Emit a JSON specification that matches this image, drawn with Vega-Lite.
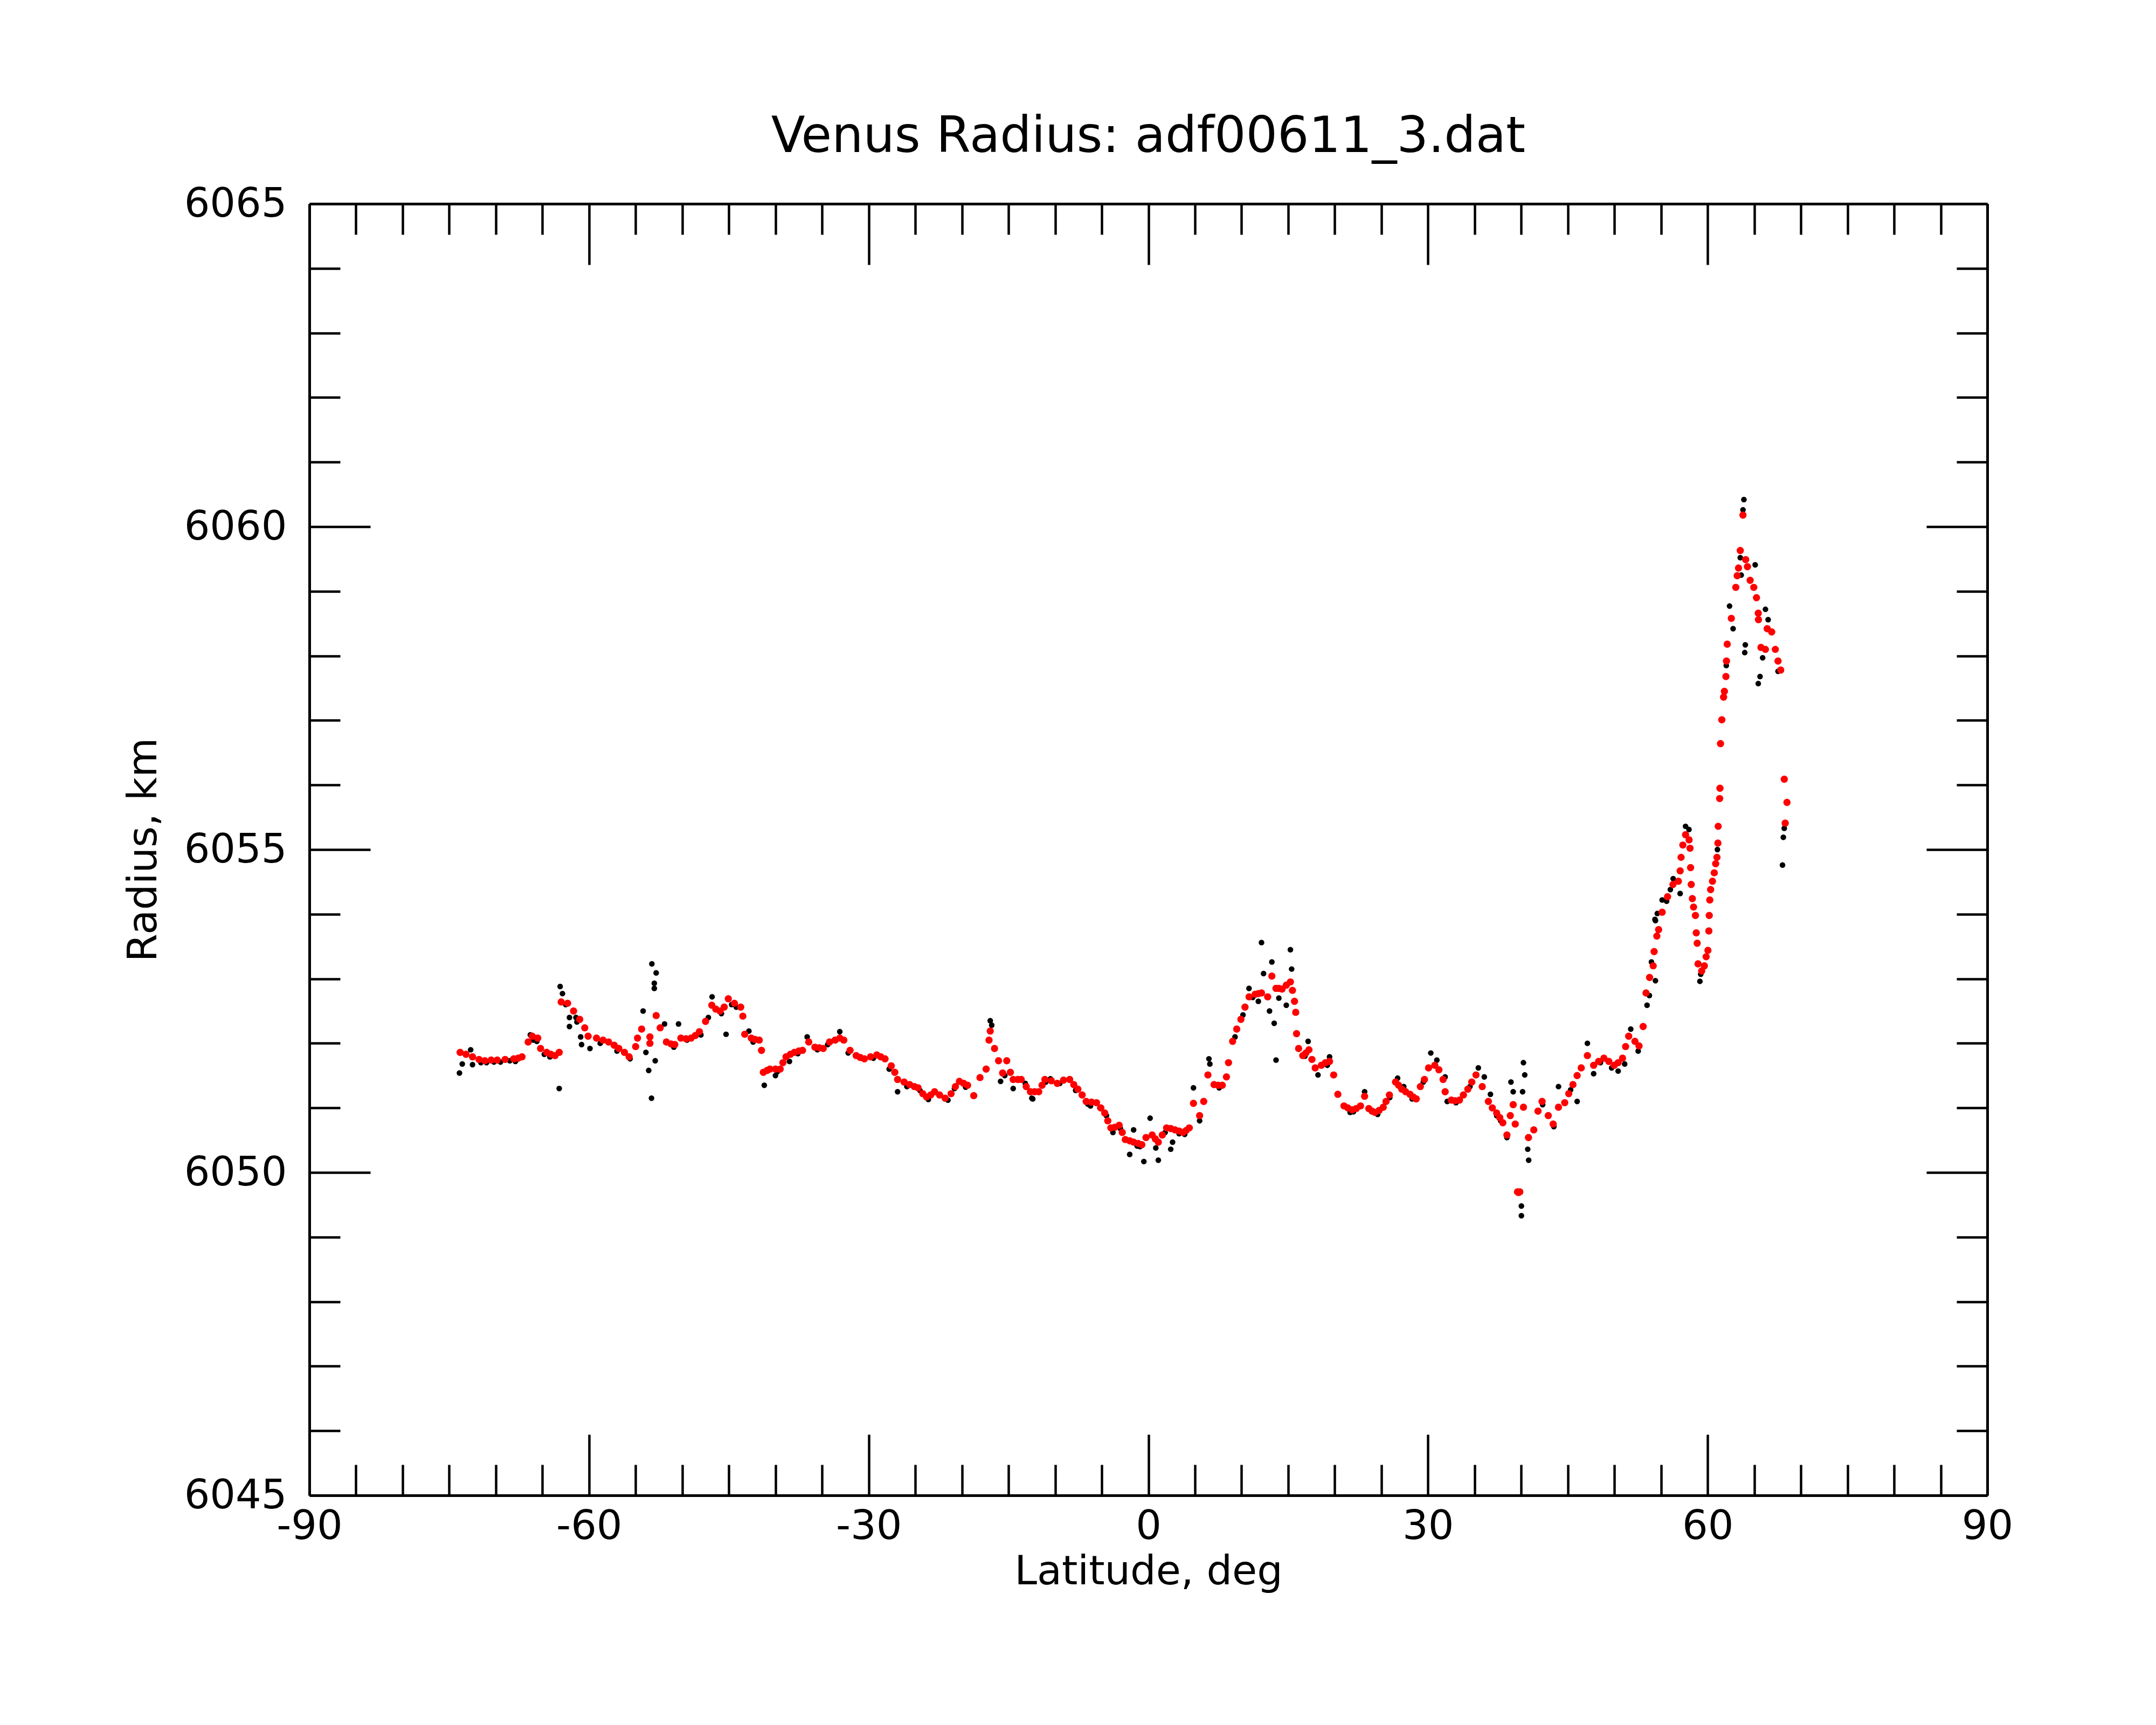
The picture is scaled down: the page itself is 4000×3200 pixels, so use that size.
{
  "$schema": "https://vega.github.io/schema/vega-lite/v6.json",
  "width": 3113,
  "height": 2396,
  "autosize": {"type": "none"},
  "padding": {"left": 574, "top": 378, "right": 313, "bottom": 426},
  "background": "white",
  "title": {"text": "Venus Radius: adf00611_3.dat", "fontSize": 92, "font": "DejaVu Sans", "fontWeight": "normal", "color": "black", "offset": 40, "anchor": "middle"},
  "config": {
    "view": {"stroke": null},
    "axis": {
      "domainColor": "black", "domainWidth": 5, "tickColor": "black", "tickWidth": 4.5,
      "labelFont": "DejaVu Sans", "labelFontSize": 75, "labelColor": "black", "labelLimit": 0,
      "titleFont": "DejaVu Sans", "titleFontSize": 75, "titleFontWeight": "normal", "titleColor": "black",
      "grid": false, "labelOverlap": false, "labelFlush": false, "labelBound": false
    }
  },
  "datasets": {
    "fit": [
      {"lat": -73.83, "r": 6051.86}, {"lat": -73.2, "r": 6051.83}, {"lat": -72.5, "r": 6051.79}, {"lat": -71.8, "r": 6051.75},
      {"lat": -71.18, "r": 6051.73}, {"lat": -70.5, "r": 6051.74}, {"lat": -69.85, "r": 6051.74}, {"lat": -69.0, "r": 6051.75},
      {"lat": -68.08, "r": 6051.76}, {"lat": -67.6, "r": 6051.77}, {"lat": -67.19, "r": 6051.79}, {"lat": -66.53, "r": 6052.02},
      {"lat": -66.09, "r": 6052.11}, {"lat": -65.5, "r": 6052.08}, {"lat": -65.2, "r": 6051.92}, {"lat": -64.54, "r": 6051.86},
      {"lat": -64.1, "r": 6051.83}, {"lat": -63.65, "r": 6051.81}, {"lat": -63.2, "r": 6051.86}, {"lat": -62.99, "r": 6052.64}, {"lat": -62.3, "r": 6052.62},
      {"lat": -61.66, "r": 6052.5}, {"lat": -61.0, "r": 6052.37}, {"lat": -60.46, "r": 6052.24}, {"lat": -60.1, "r": 6052.11},
      {"lat": -59.2, "r": 6052.08}, {"lat": -58.5, "r": 6052.05}, {"lat": -57.9, "r": 6052.02}, {"lat": -57.3, "r": 6051.97},
      {"lat": -56.8, "r": 6051.92}, {"lat": -56.2, "r": 6051.86}, {"lat": -55.7, "r": 6051.79}, {"lat": -55.0, "r": 6051.95},
      {"lat": -54.8, "r": 6052.08}, {"lat": -54.36, "r": 6052.22}, {"lat": -53.47, "r": 6052.1}, {"lat": -53.47, "r": 6052.0},
      {"lat": -52.8, "r": 6052.43}, {"lat": -52.37, "r": 6052.24}, {"lat": -51.7, "r": 6052.02}, {"lat": -51.2, "r": 6051.99}, {"lat": -50.8, "r": 6051.98},
      {"lat": -50.15, "r": 6052.08}, {"lat": -49.6, "r": 6052.07}, {"lat": -49.05, "r": 6052.08}, {"lat": -48.6, "r": 6052.12}, {"lat": -48.16, "r": 6052.18},
      {"lat": -47.5, "r": 6052.34}, {"lat": -46.83, "r": 6052.59}, {"lat": -46.4, "r": 6052.53}, {"lat": -45.95, "r": 6052.5}, {"lat": -45.5, "r": 6052.56},
      {"lat": -45.06, "r": 6052.69}, {"lat": -44.4, "r": 6052.62}, {"lat": -43.73, "r": 6052.56}, {"lat": -43.5, "r": 6052.42},
      {"lat": -43.3, "r": 6052.14}, {"lat": -42.6, "r": 6052.08}, {"lat": -42.2, "r": 6052.06}, {"lat": -41.74, "r": 6052.05}, {"lat": -41.5, "r": 6051.89},
      {"lat": -41.3, "r": 6051.55}, {"lat": -40.9, "r": 6051.58}, {"lat": -40.6, "r": 6051.6}, {"lat": -40.0, "r": 6051.6}, {"lat": -39.5, "r": 6051.6},
      {"lat": -39.2, "r": 6051.7}, {"lat": -38.87, "r": 6051.79}, {"lat": -38.4, "r": 6051.83}, {"lat": -37.98, "r": 6051.86}, {"lat": -37.5, "r": 6051.88}, {"lat": -37.1, "r": 6051.89}, {"lat": -36.43, "r": 6052.02},
      {"lat": -35.77, "r": 6051.94}, {"lat": -35.3, "r": 6051.93}, {"lat": -34.88, "r": 6051.92}, {"lat": -34.2, "r": 6052.02}, {"lat": -33.6, "r": 6052.05}, {"lat": -33.1, "r": 6052.08},
      {"lat": -32.67, "r": 6052.05}, {"lat": -32.0, "r": 6051.89}, {"lat": -31.34, "r": 6051.81}, {"lat": -30.9, "r": 6051.78}, {"lat": -30.46, "r": 6051.76},
      {"lat": -29.8, "r": 6051.79}, {"lat": -29.13, "r": 6051.82}, {"lat": -28.7, "r": 6051.79}, {"lat": -28.25, "r": 6051.76}, {"lat": -27.58, "r": 6051.65},
      {"lat": -27.2, "r": 6051.55}, {"lat": -26.9, "r": 6051.44}, {"lat": -26.2, "r": 6051.4}, {"lat": -25.6, "r": 6051.36}, {"lat": -25.1, "r": 6051.33},
      {"lat": -24.7, "r": 6051.31}, {"lat": -24.2, "r": 6051.22}, {"lat": -23.8, "r": 6051.17}, {"lat": -23.35, "r": 6051.2}, {"lat": -22.93, "r": 6051.25},
      {"lat": -22.4, "r": 6051.2}, {"lat": -21.8, "r": 6051.15}, {"lat": -21.16, "r": 6051.22}, {"lat": -20.7, "r": 6051.33}, {"lat": -20.27, "r": 6051.41},
      {"lat": -19.8, "r": 6051.38}, {"lat": -19.39, "r": 6051.35}, {"lat": -18.73, "r": 6051.19}, {"lat": -18.06, "r": 6051.47}, {"lat": -17.4, "r": 6051.6},
      {"lat": -17.09, "r": 6052.05}, {"lat": -16.96, "r": 6052.19}, {"lat": -16.5, "r": 6051.92}, {"lat": -16.07, "r": 6051.73},
      {"lat": -15.63, "r": 6051.54}, {"lat": -15.19, "r": 6051.73}, {"lat": -14.8, "r": 6051.55}, {"lat": -14.5, "r": 6051.44}, {"lat": -14.0, "r": 6051.44},
      {"lat": -13.64, "r": 6051.44}, {"lat": -13.1, "r": 6051.33}, {"lat": -12.65, "r": 6051.25}, {"lat": -12.2, "r": 6051.25},
      {"lat": -11.76, "r": 6051.25}, {"lat": -11.4, "r": 6051.35}, {"lat": -11.1, "r": 6051.44}, {"lat": -10.4, "r": 6051.42}, {"lat": -9.77, "r": 6051.38},
      {"lat": -9.1, "r": 6051.43}, {"lat": -8.44, "r": 6051.44}, {"lat": -8.0, "r": 6051.36}, {"lat": -7.56, "r": 6051.29}, {"lat": -7.1, "r": 6051.2}, {"lat": -6.67, "r": 6051.1},
      {"lat": -6.1, "r": 6051.09}, {"lat": -5.56, "r": 6051.08}, {"lat": -5.1, "r": 6051.0}, {"lat": -4.68, "r": 6050.92}, {"lat": -4.35, "r": 6050.8}, {"lat": -4.02, "r": 6050.69},
      {"lat": -3.6, "r": 6050.7}, {"lat": -3.13, "r": 6050.73}, {"lat": -2.8, "r": 6050.62}, {"lat": -2.47, "r": 6050.51}, {"lat": -2.0, "r": 6050.49}, {"lat": -1.58, "r": 6050.47},
      {"lat": -1.1, "r": 6050.45}, {"lat": -0.7, "r": 6050.43},
      {"lat": -0.25, "r": 6050.54}, {"lat": 0.41, "r": 6050.58}, {"lat": 0.75, "r": 6050.52}, {"lat": 1.07, "r": 6050.47}, {"lat": 1.5, "r": 6050.58}, {"lat": 1.96, "r": 6050.69},
      {"lat": 2.4, "r": 6050.68}, {"lat": 2.85, "r": 6050.66}, {"lat": 3.3, "r": 6050.64}, {"lat": 3.73, "r": 6050.62}, {"lat": 4.05, "r": 6050.65}, {"lat": 4.39, "r": 6050.69}, {"lat": 4.84, "r": 6051.07},
      {"lat": 5.5, "r": 6050.88}, {"lat": 5.94, "r": 6051.1}, {"lat": 6.39, "r": 6051.51}, {"lat": 7.05, "r": 6051.36},
      {"lat": 7.5, "r": 6051.35}, {"lat": 7.93, "r": 6051.35}, {"lat": 8.38, "r": 6051.48}, {"lat": 8.6, "r": 6051.7}, {"lat": 9.04, "r": 6052.03},
      {"lat": 9.48, "r": 6052.22}, {"lat": 9.93, "r": 6052.37}, {"lat": 10.37, "r": 6052.56}, {"lat": 10.81, "r": 6052.72},
      {"lat": 11.47, "r": 6052.76}, {"lat": 11.8, "r": 6052.77}, {"lat": 12.14, "r": 6052.78}, {"lat": 12.8, "r": 6052.72}, {"lat": 13.25, "r": 6053.04},
      {"lat": 13.69, "r": 6052.85}, {"lat": 14.0, "r": 6052.85}, {"lat": 14.35, "r": 6052.84}, {"lat": 14.8, "r": 6052.9}, {"lat": 15.24, "r": 6052.95}, {"lat": 15.46, "r": 6052.82},
      {"lat": 15.68, "r": 6052.65}, {"lat": 15.81, "r": 6052.48}, {"lat": 15.9, "r": 6052.15}, {"lat": 16.12, "r": 6051.92},
      {"lat": 16.57, "r": 6051.81}, {"lat": 16.9, "r": 6051.85}, {"lat": 17.23, "r": 6051.9}, {"lat": 17.55, "r": 6051.75}, {"lat": 17.9, "r": 6051.62}, {"lat": 18.56, "r": 6051.66},
      {"lat": 19.0, "r": 6051.7}, {"lat": 19.44, "r": 6051.72}, {"lat": 19.88, "r": 6051.51}, {"lat": 20.33, "r": 6051.21}, {"lat": 20.99, "r": 6051.03},
      {"lat": 21.4, "r": 6051.0}, {"lat": 21.88, "r": 6050.97}, {"lat": 22.3, "r": 6050.99}, {"lat": 22.76, "r": 6051.03}, {"lat": 23.2, "r": 6051.18}, {"lat": 23.65, "r": 6050.99},
      {"lat": 24.0, "r": 6050.95}, {"lat": 24.31, "r": 6050.93}, {"lat": 24.75, "r": 6050.96}, {"lat": 25.2, "r": 6051.01}, {"lat": 25.5, "r": 6051.1}, {"lat": 25.86, "r": 6051.2}, {"lat": 26.52, "r": 6051.4},
      {"lat": 26.85, "r": 6051.35}, {"lat": 27.19, "r": 6051.29}, {"lat": 27.6, "r": 6051.25}, {"lat": 28.07, "r": 6051.21}, {"lat": 28.4, "r": 6051.17}, {"lat": 28.74, "r": 6051.14}, {"lat": 29.18, "r": 6051.33},
      {"lat": 29.62, "r": 6051.44}, {"lat": 30.06, "r": 6051.62}, {"lat": 30.73, "r": 6051.66}, {"lat": 31.17, "r": 6051.59},
      {"lat": 31.62, "r": 6051.44}, {"lat": 31.84, "r": 6051.25}, {"lat": 32.5, "r": 6051.12}, {"lat": 32.9, "r": 6051.11}, {"lat": 33.38, "r": 6051.12},
      {"lat": 33.8, "r": 6051.2}, {"lat": 34.27, "r": 6051.29}, {"lat": 34.7, "r": 6051.4}, {"lat": 35.15, "r": 6051.51}, {"lat": 35.82, "r": 6051.33}, {"lat": 36.48, "r": 6051.1},
      {"lat": 36.9, "r": 6051.0}, {"lat": 37.37, "r": 6050.92}, {"lat": 37.7, "r": 6050.85}, {"lat": 38.03, "r": 6050.77}, {"lat": 38.47, "r": 6050.58}, {"lat": 38.83, "r": 6050.88},
      {"lat": 39.14, "r": 6051.05}, {"lat": 39.36, "r": 6050.75}, {"lat": 39.6, "r": 6049.7}, {"lat": 39.71, "r": 6049.69},
      {"lat": 39.85, "r": 6049.7}, {"lat": 40.24, "r": 6051.01}, {"lat": 40.78, "r": 6050.54}, {"lat": 41.35, "r": 6050.66},
      {"lat": 41.8, "r": 6050.95}, {"lat": 42.24, "r": 6051.1}, {"lat": 42.9, "r": 6050.88}, {"lat": 43.43, "r": 6050.75},
      {"lat": 44.0, "r": 6051.01}, {"lat": 44.67, "r": 6051.08}, {"lat": 45.1, "r": 6051.22}, {"lat": 45.55, "r": 6051.36}, {"lat": 46.0, "r": 6051.5}, {"lat": 46.44, "r": 6051.62},
      {"lat": 47.1, "r": 6051.81}, {"lat": 47.77, "r": 6051.66}, {"lat": 48.3, "r": 6051.72}, {"lat": 48.87, "r": 6051.77}, {"lat": 49.4, "r": 6051.72}, {"lat": 49.98, "r": 6051.66},
      {"lat": 50.4, "r": 6051.7}, {"lat": 50.87, "r": 6051.77}, {"lat": 51.2, "r": 6051.95}, {"lat": 51.53, "r": 6052.11}, {"lat": 52.2, "r": 6052.03}, {"lat": 52.64, "r": 6051.96},
      {"lat": 53.08, "r": 6052.26}, {"lat": 53.39, "r": 6052.78}, {"lat": 53.77, "r": 6053.02}, {"lat": 54.16, "r": 6053.2},
      {"lat": 54.26, "r": 6053.42}, {"lat": 54.55, "r": 6053.66}, {"lat": 54.74, "r": 6053.76}, {"lat": 55.12, "r": 6054.03},
      {"lat": 55.7, "r": 6054.27}, {"lat": 56.28, "r": 6054.46}, {"lat": 56.86, "r": 6054.51}, {"lat": 57.05, "r": 6054.67},
      {"lat": 57.15, "r": 6054.88}, {"lat": 57.34, "r": 6055.07}, {"lat": 57.63, "r": 6055.23}, {"lat": 58.01, "r": 6055.15},
      {"lat": 58.11, "r": 6055.02}, {"lat": 58.17, "r": 6054.72}, {"lat": 58.24, "r": 6054.46}, {"lat": 58.36, "r": 6054.24},
      {"lat": 58.49, "r": 6054.11}, {"lat": 58.69, "r": 6053.98}, {"lat": 58.78, "r": 6053.71}, {"lat": 58.88, "r": 6053.55},
      {"lat": 58.97, "r": 6053.23}, {"lat": 59.36, "r": 6053.12}, {"lat": 59.65, "r": 6053.2}, {"lat": 59.84, "r": 6053.34},
      {"lat": 60.03, "r": 6053.44}, {"lat": 60.13, "r": 6053.74}, {"lat": 60.17, "r": 6053.98}, {"lat": 60.23, "r": 6054.22},
      {"lat": 60.32, "r": 6054.38}, {"lat": 60.52, "r": 6054.51}, {"lat": 60.71, "r": 6054.64}, {"lat": 60.86, "r": 6054.78},
      {"lat": 61.0, "r": 6054.88}, {"lat": 61.1, "r": 6055.1}, {"lat": 61.13, "r": 6055.36}, {"lat": 61.29, "r": 6055.79},
      {"lat": 61.32, "r": 6055.95}, {"lat": 61.38, "r": 6056.64}, {"lat": 61.52, "r": 6057.01}, {"lat": 61.71, "r": 6057.36},
      {"lat": 61.8, "r": 6057.45}, {"lat": 61.96, "r": 6057.68}, {"lat": 62.02, "r": 6057.92}, {"lat": 62.1, "r": 6058.18},
      {"lat": 62.54, "r": 6058.58}, {"lat": 63.02, "r": 6059.06}, {"lat": 63.17, "r": 6059.24}, {"lat": 63.31, "r": 6059.36},
      {"lat": 63.5, "r": 6059.63}, {"lat": 63.79, "r": 6060.18}, {"lat": 64.08, "r": 6059.49}, {"lat": 64.27, "r": 6059.38},
      {"lat": 64.56, "r": 6059.17}, {"lat": 64.95, "r": 6059.06}, {"lat": 65.24, "r": 6058.9}, {"lat": 65.43, "r": 6058.66},
      {"lat": 65.45, "r": 6058.56}, {"lat": 65.72, "r": 6058.13}, {"lat": 66.2, "r": 6058.1}, {"lat": 66.39, "r": 6058.42},
      {"lat": 66.87, "r": 6058.37}, {"lat": 67.26, "r": 6058.1}, {"lat": 67.55, "r": 6057.92}, {"lat": 67.84, "r": 6057.78},
      {"lat": 68.22, "r": 6056.09}, {"lat": 68.51, "r": 6055.73}, {"lat": 68.32, "r": 6055.41}
    ],
    "raw": [
      {"lat": -73.9, "r": 6051.54}, {"lat": -73.6, "r": 6051.68}, {"lat": -72.7, "r": 6051.9}, {"lat": -72.5, "r": 6051.67},
      {"lat": -71.6, "r": 6051.7}, {"lat": -71.0, "r": 6051.7}, {"lat": -70.2, "r": 6051.71}, {"lat": -69.5, "r": 6051.71}, {"lat": -68.5, "r": 6051.73}, {"lat": -67.9, "r": 6051.72},
      {"lat": -66.3, "r": 6052.13}, {"lat": -66.0, "r": 6052.05}, {"lat": -65.6, "r": 6052.03}, {"lat": -64.8, "r": 6051.83}, {"lat": -64.2, "r": 6051.79},
      {"lat": -63.2, "r": 6051.3}, {"lat": -63.1, "r": 6052.88}, {"lat": -62.85, "r": 6052.77},
      {"lat": -62.5, "r": 6052.6}, {"lat": -62.1, "r": 6052.4}, {"lat": -62.1, "r": 6052.26}, {"lat": -61.4, "r": 6052.4}, {"lat": -61.3, "r": 6052.33},
      {"lat": -60.9, "r": 6052.1}, {"lat": -60.8, "r": 6051.98}, {"lat": -59.9, "r": 6051.92}, {"lat": -58.8, "r": 6052.0}, {"lat": -57.0, "r": 6051.88}, {"lat": -55.6, "r": 6051.76},
      {"lat": -54.2, "r": 6052.5},
      {"lat": -53.9, "r": 6051.86}, {"lat": -53.6, "r": 6051.58}, {"lat": -53.3, "r": 6051.15}, {"lat": -53.26, "r": 6053.23},
      {"lat": -52.8, "r": 6053.09}, {"lat": -53.0, "r": 6052.93}, {"lat": -53.0, "r": 6052.85}, {"lat": -52.9, "r": 6051.73},
      {"lat": -51.9, "r": 6052.3}, {"lat": -50.9, "r": 6051.94}, {"lat": -50.4, "r": 6052.3}, {"lat": -49.5, "r": 6052.05}, {"lat": -48.0, "r": 6052.13}, {"lat": -47.2, "r": 6052.4},
      {"lat": -46.8, "r": 6052.72}, {"lat": -45.8, "r": 6052.46},
      {"lat": -45.3, "r": 6052.14}, {"lat": -44.7, "r": 6052.6}, {"lat": -44.2, "r": 6052.56}, {"lat": -42.85, "r": 6052.19}, {"lat": -42.4, "r": 6052.02}, {"lat": -42.2, "r": 6052.05},
      {"lat": -41.2, "r": 6051.35}, {"lat": -40.0, "r": 6051.5}, {"lat": -39.8, "r": 6051.56}, {"lat": -38.5, "r": 6051.72}, {"lat": -37.6, "r": 6051.84}, {"lat": -36.6, "r": 6052.1},
      {"lat": -35.5, "r": 6051.9}, {"lat": -34.4, "r": 6051.98},
      {"lat": -33.1, "r": 6052.18}, {"lat": -32.2, "r": 6051.85}, {"lat": -31.0, "r": 6051.78}, {"lat": -29.5, "r": 6051.77}, {"lat": -27.8, "r": 6051.6},
      {"lat": -26.9, "r": 6051.25}, {"lat": -25.9, "r": 6051.33}, {"lat": -24.5, "r": 6051.27}, {"lat": -23.6, "r": 6051.13}, {"lat": -21.5, "r": 6051.12},
      {"lat": -20.8, "r": 6051.3}, {"lat": -19.9, "r": 6051.38}, {"lat": -19.6, "r": 6051.32}, {"lat": -16.96, "r": 6052.35}, {"lat": -16.8, "r": 6052.28},
      {"lat": -15.85, "r": 6051.41}, {"lat": -15.4, "r": 6051.5}, {"lat": -14.5, "r": 6051.3}, {"lat": -13.2, "r": 6051.38}, {"lat": -12.5, "r": 6051.15}, {"lat": -12.4, "r": 6051.14},
      {"lat": -11.0, "r": 6051.4}, {"lat": -10.5, "r": 6051.45}, {"lat": -9.5, "r": 6051.38}, {"lat": -8.0, "r": 6051.35}, {"lat": -7.8, "r": 6051.27}, {"lat": -6.5, "r": 6051.06},
      {"lat": -6.2, "r": 6051.03}, {"lat": -5.2, "r": 6051.0}, {"lat": -4.5, "r": 6050.88},
      {"lat": -3.8, "r": 6050.62}, {"lat": -3.0, "r": 6050.68}, {"lat": -2.0, "r": 6050.28}, {"lat": -1.58, "r": 6050.66}, {"lat": -1.2, "r": 6050.41}, {"lat": -0.9, "r": 6050.4},
      {"lat": -0.48, "r": 6050.17}, {"lat": 0.19, "r": 6050.84}, {"lat": 0.8, "r": 6050.38}, {"lat": 1.07, "r": 6050.19}, {"lat": 1.8, "r": 6050.62},
      {"lat": 2.4, "r": 6050.36}, {"lat": 2.6, "r": 6050.47}, {"lat": 3.3, "r": 6050.6}, {"lat": 3.9, "r": 6050.59}, {"lat": 4.84, "r": 6051.31},
      {"lat": 5.5, "r": 6050.8}, {"lat": 6.5, "r": 6051.76}, {"lat": 6.6, "r": 6051.68}, {"lat": 7.6, "r": 6051.31}, {"lat": 9.3, "r": 6052.1},
      {"lat": 10.15, "r": 6052.44}, {"lat": 10.8, "r": 6052.85}, {"lat": 11.2, "r": 6052.71}, {"lat": 11.8, "r": 6052.65}, {"lat": 12.14, "r": 6053.56},
      {"lat": 12.36, "r": 6053.08}, {"lat": 13.25, "r": 6053.26}, {"lat": 13.0, "r": 6052.5}, {"lat": 13.5, "r": 6052.31},
      {"lat": 13.7, "r": 6051.74}, {"lat": 14.0, "r": 6052.7}, {"lat": 14.8, "r": 6052.59}, {"lat": 15.24, "r": 6053.45},
      {"lat": 15.37, "r": 6053.15}, {"lat": 16.8, "r": 6051.8}, {"lat": 17.14, "r": 6052.03}, {"lat": 18.2, "r": 6051.51}, {"lat": 19.2, "r": 6051.66}, {"lat": 19.44, "r": 6051.79},
      {"lat": 21.65, "r": 6050.93}, {"lat": 22.0, "r": 6050.94}, {"lat": 23.2, "r": 6051.25}, {"lat": 24.6, "r": 6050.9}, {"lat": 25.9, "r": 6051.16}, {"lat": 26.74, "r": 6051.46}, {"lat": 27.4, "r": 6051.33},
      {"lat": 28.3, "r": 6051.14}, {"lat": 29.5, "r": 6051.4},
      {"lat": 30.3, "r": 6051.85}, {"lat": 30.95, "r": 6051.74}, {"lat": 31.84, "r": 6051.48}, {"lat": 32.06, "r": 6051.1}, {"lat": 33.0, "r": 6051.08}, {"lat": 34.5, "r": 6051.33},
      {"lat": 35.4, "r": 6051.62}, {"lat": 36.04, "r": 6051.48}, {"lat": 36.7, "r": 6051.21}, {"lat": 37.37, "r": 6050.88}, {"lat": 37.8, "r": 6050.8},
      {"lat": 38.47, "r": 6050.54}, {"lat": 38.9, "r": 6051.4}, {"lat": 39.14, "r": 6051.25}, {"lat": 40.02, "r": 6049.48},
      {"lat": 40.02, "r": 6049.33}, {"lat": 40.24, "r": 6051.7}, {"lat": 40.38, "r": 6051.51}, {"lat": 40.15, "r": 6051.25},
      {"lat": 40.7, "r": 6050.36}, {"lat": 40.8, "r": 6050.19}, {"lat": 42.3, "r": 6051.05}, {"lat": 43.5, "r": 6050.71}, {"lat": 44.0, "r": 6051.33}, {"lat": 45.3, "r": 6051.28}, {"lat": 46.0, "r": 6051.1},
      {"lat": 47.1, "r": 6052.0}, {"lat": 47.77, "r": 6051.53}, {"lat": 48.5, "r": 6051.7}, {"lat": 49.7, "r": 6051.62}, {"lat": 50.4, "r": 6051.57}, {"lat": 51.1, "r": 6051.68},
      {"lat": 51.75, "r": 6052.22}, {"lat": 52.55, "r": 6051.88}, {"lat": 53.5, "r": 6052.59}, {"lat": 53.75, "r": 6052.74},
      {"lat": 53.97, "r": 6053.26}, {"lat": 54.4, "r": 6052.97}, {"lat": 54.6, "r": 6054.01}, {"lat": 54.4, "r": 6053.9}, {"lat": 56.0, "r": 6054.38},
      {"lat": 61.05, "r": 6055.0}, {"lat": 62.0, "r": 6057.85},
      {"lat": 63.89, "r": 6060.42}, {"lat": 63.79, "r": 6060.26}, {"lat": 63.5, "r": 6059.52}, {"lat": 63.6, "r": 6059.25},
      {"lat": 65.1, "r": 6059.41}, {"lat": 62.35, "r": 6058.77}, {"lat": 62.73, "r": 6058.42}, {"lat": 64.04, "r": 6058.17},
      {"lat": 63.98, "r": 6058.05}, {"lat": 66.2, "r": 6058.72}, {"lat": 66.49, "r": 6058.56}, {"lat": 65.9, "r": 6057.97},
      {"lat": 65.62, "r": 6057.68}, {"lat": 65.43, "r": 6057.57}, {"lat": 67.55, "r": 6057.76}, {"lat": 59.17, "r": 6052.96},
      {"lat": 59.26, "r": 6053.07}, {"lat": 55.12, "r": 6054.22}, {"lat": 57.05, "r": 6054.32}, {"lat": 54.35, "r": 6053.92},
      {"lat": 57.63, "r": 6055.36}, {"lat": 58.0, "r": 6055.31}, {"lat": 68.22, "r": 6055.33}, {"lat": 68.12, "r": 6055.19},
      {"lat": 68.03, "r": 6054.76}, {"lat": 55.6, "r": 6054.2}, {"lat": 56.3, "r": 6054.55}
    ]
  },
  "layer": [
    {
      "data": {"name": "raw"},
      "mark": {"type": "circle", "color": "black", "size": 110, "opacity": 1},
      "encoding": {
        "x": {
          "field": "lat", "type": "quantitative",
          "scale": {"domain": [-90, 90], "nice": false, "zero": false},
          "axis": {
            "orient": "bottom", "title": "Latitude, deg", "titlePadding": -46,
            "values": [-90,-85,-80,-75,-70,-65,-60,-55,-50,-45,-40,-35,-30,-25,-20,-15,-10,-5,0,5,10,15,20,25,30,35,40,45,50,55,60,65,70,75,80,85,90],
            "labelExpr": "datum.value % 30 === 0 ? '' + datum.value : ''",
            "tickSize": {"condition": {"test": "datum.value % 30 === 0", "value": -113}, "value": -57},
            "labelPadding": 134
          }
        },
        "y": {
          "field": "r", "type": "quantitative",
          "scale": {"domain": [6045, 6065], "nice": false, "zero": false},
          "axis": {
            "orient": "left", "title": "Radius, km", "titlePadding": 69,
            "values": [6045,6046,6047,6048,6049,6050,6051,6052,6053,6054,6055,6056,6057,6058,6059,6060,6061,6062,6063,6064,6065],
            "labelExpr": "datum.value % 5 === 0 ? '' + datum.value : ''",
            "tickSize": {"condition": {"test": "datum.value % 5 === 0", "value": -113}, "value": -57},
            "labelPadding": 155
          }
        }
      }
    },
    {
      "data": {"name": "fit"},
      "mark": {"type": "circle", "color": "#ff0000", "size": 180, "opacity": 1},
      "encoding": {
        "x": {
          "field": "lat", "type": "quantitative",
          "scale": {"domain": [-90, 90], "nice": false, "zero": false},
          "axis": {
            "orient": "top", "title": null, "labels": false,
            "values": [-90,-85,-80,-75,-70,-65,-60,-55,-50,-45,-40,-35,-30,-25,-20,-15,-10,-5,0,5,10,15,20,25,30,35,40,45,50,55,60,65,70,75,80,85,90],
            "tickSize": {"condition": {"test": "datum.value % 30 === 0", "value": -113}, "value": -57}
          }
        },
        "y": {
          "field": "r", "type": "quantitative",
          "scale": {"domain": [6045, 6065], "nice": false, "zero": false},
          "axis": {
            "orient": "right", "title": null, "labels": false,
            "values": [6045,6046,6047,6048,6049,6050,6051,6052,6053,6054,6055,6056,6057,6058,6059,6060,6061,6062,6063,6064,6065],
            "tickSize": {"condition": {"test": "datum.value % 5 === 0", "value": -113}, "value": -57}
          }
        }
      }
    }
  ],
  "resolve": {"axis": {"x": "independent", "y": "independent"}}
}
